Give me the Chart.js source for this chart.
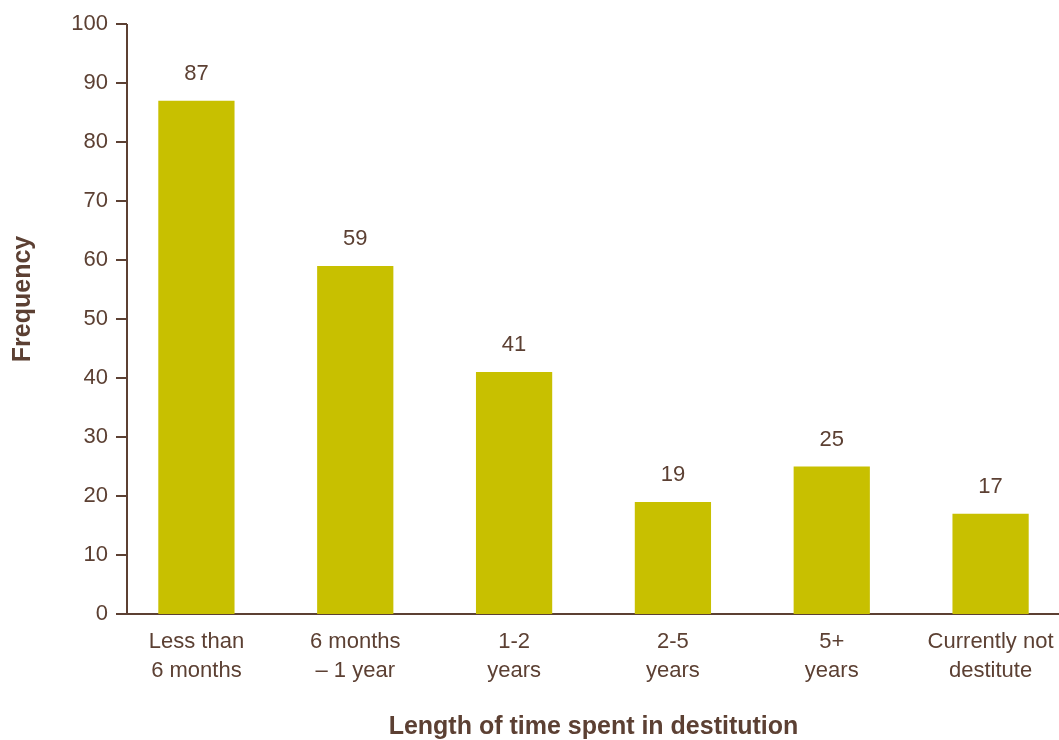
<!DOCTYPE html>
<html>
<head>
<meta charset="utf-8">
<script src="https://cdn.jsdelivr.net/npm/chart.js@4.4.1/dist/chart.umd.min.js"></script>
<style>
	html, body { margin: 0; padding: 0; background: #fff; overflow: hidden; }
	#wrap { width: 1070px; height: 740px; position: relative; }
</style>
</head>
<body>
<div id="wrap"><canvas id="timeChart"></canvas></div>
<script>
const categories = [
	["Less than", "6 months"],
	["6 months", "\u2013 1 year"],
	["1-2", "years"],
	["2-5", "years"],
	["5+", "years"],
	["Currently not", "destitute"],
];
const frequency = [87, 59, 41, 19, 25, 17];
const yTicks = [0, 10, 20, 30, 40, 50, 60, 70, 80, 90, 100];
const yTitle = "Frequency";
const xTitle = "Length of time spent in destitution";

const brown = "#5c4033";
const barColor = "#c8c000";
const fontFamily = "'Liberation Sans', Arial, sans-serif";

// value labels above each bar
const valueLabels = {
	id: "valueLabels",
	afterDatasetsDraw(chart) {
		const ctx = chart.ctx;
		const meta = chart.getDatasetMeta(0);
		ctx.save();
		ctx.font = "22px " + fontFamily;
		ctx.fillStyle = brown;
		ctx.textAlign = "center";
		ctx.textBaseline = "middle";
		meta.data.forEach((bar, i) => {
			ctx.fillText(String(frequency[i]), bar.x, bar.y - 27);
		});
		ctx.restore();
	},
};

// y axis line sits a little right of where the category band begins,
// and the y title is set a bit above the plot centre like the original
const yAxisLine = {
	id: "yAxisLine",
	afterDraw(chart) {
		const ctx = chart.ctx;
		const y = chart.scales.y;
		const x0 = chart.chartArea.left + 10;
		ctx.save();
		ctx.strokeStyle = brown;
		ctx.lineWidth = 2;
		ctx.beginPath();
		ctx.moveTo(x0, y.getPixelForValue(100));
		ctx.lineTo(x0, y.getPixelForValue(0) + 1);
		yTicks.forEach((t) => {
			const py = y.getPixelForValue(t);
			ctx.moveTo(x0 - 11, py);
			ctx.lineTo(x0, py);
		});
		ctx.stroke();

		ctx.translate(23, y.getPixelForValue(50) - 20);
		ctx.rotate(-Math.PI / 2);
		ctx.font = "bold 25px " + fontFamily;
		ctx.fillStyle = brown;
		ctx.textAlign = "center";
		ctx.textBaseline = "middle";
		ctx.fillText(yTitle, 0, 0);
		ctx.restore();
	},
};

const ctx = document.getElementById("timeChart");
new Chart(ctx, {
	type: "bar",
	data: {
		labels: categories,
		datasets: [
			{
				label: yTitle,
				data: frequency,
				backgroundColor: barColor,
				categoryPercentage: 1,
				barPercentage: 0.48,
			},
		],
	},
	options: {
		responsive: true,
		maintainAspectRatio: false,
		animation: false,
		layout: { padding: { top: 24, right: 0, left: 0, bottom: 0 } },
		plugins: {
			legend: { display: false },
			tooltip: { enabled: false },
		},
		scales: {
			x: {
				grid: { display: false, drawTicks: false },
				border: { display: true, color: brown, width: 2 },
				ticks: {
					color: brown,
					padding: 13,
					maxRotation: 0,
					autoSkip: false,
					font: { family: fontFamily, size: 22, lineHeight: 1.32 },
				},
				title: {
					display: true,
					text: xTitle,
					color: brown,
					padding: { top: 10, bottom: -2 },
					font: { family: fontFamily, size: 25, weight: "bold" },
				},
				afterFit(scale) {
					scale.height = 126;
				},
			},
			y: {
				min: 0,
				max: 100,
				grid: { display: false, drawTicks: false },
				border: { display: false },
				ticks: {
					stepSize: 10,
					color: brown,
					padding: 9,
					font: { family: fontFamily, size: 22 },
				},
				title: { display: false },
				afterFit(scale) {
					scale.width = 117;
				},
			},
		},
	},
	plugins: [valueLabels, yAxisLine],
});
</script>
</body>
</html>
